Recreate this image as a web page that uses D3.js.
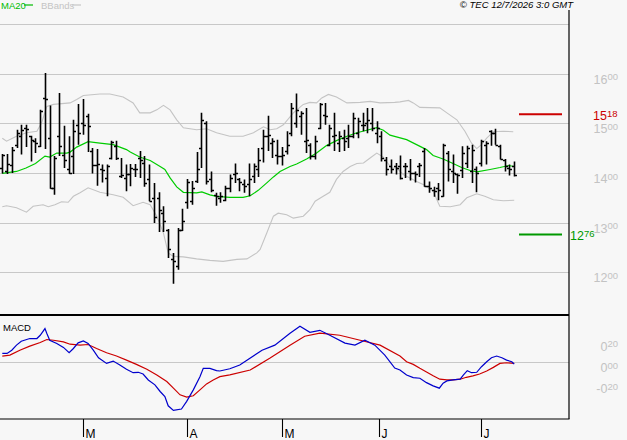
<!DOCTYPE html>
<html><head><meta charset="utf-8">
<script src="https://cdn.jsdelivr.net/npm/d3@7/dist/d3.min.js"></script>
<style>body{margin:0;background:#f7f7f7}svg{display:block}</style>
</head><body><svg id="c" width="627" height="440"></svg>
<script>
// ---- OHLC data (bar index 0..108)
const open  = [1410,1403,1417,1457,1474,1491,1474,1464,1454,1551,1470,1370,1474,1437,1407,1434,1497,1501,1514,1444,1417,1407,1390,1430,1454,1393,1390,1397,1407,1430,1420,1387,1350,1350,1319,1286,1226,1212,1286,1341,1343,1383,1450,1501,1387,1356,1350,1346,1370,1397,1387,1377,1377,1393,1407,1450,1474,1460,1437,1434,1444,1480,1501,1514,1464,1457,1434,1490,1517,1457,1474,1460,1470,1470,1474,1481,1497,1501,1501,1481,1474,1427,1413,1413,1413,1413,1403,1400,1413,1444,1373,1366,1370,1353,1440,1403,1397,1405,1420,1403,1407,1420,1457,1484,1481,1454,1427,1410,1413];
const high  = [1438,1438,1452,1487,1497,1497,1475,1470,1527,1601,1536,1434,1561,1495,1474,1507,1539,1549,1519,1450,1448,1417,1417,1465,1465,1430,1417,1418,1418,1444,1434,1417,1380,1361,1333,1287,1239,1289,1328,1388,1384,1442,1521,1504,1403,1360,1361,1374,1397,1419,1390,1387,1419,1419,1450,1487,1515,1470,1467,1452,1484,1541,1560,1524,1531,1460,1475,1541,1541,1497,1521,1484,1487,1497,1521,1511,1521,1531,1531,1504,1484,1432,1427,1420,1435,1420,1428,1403,1420,1450,1383,1372,1380,1459,1444,1437,1399,1454,1455,1457,1413,1467,1464,1486,1489,1457,1428,1417,1423];
const low   = [1399,1398,1400,1450,1437,1452,1423,1440,1452,1448,1368,1356,1434,1410,1398,1398,1457,1477,1442,1399,1374,1381,1353,1427,1426,1390,1363,1373,1392,1390,1372,1343,1299,1281,1281,1229,1177,1205,1283,1328,1336,1380,1410,1377,1361,1334,1340,1343,1361,1380,1363,1360,1353,1380,1392,1421,1444,1430,1417,1415,1437,1474,1491,1477,1440,1427,1427,1488,1497,1454,1444,1442,1444,1450,1470,1470,1484,1480,1484,1460,1423,1395,1399,1397,1387,1390,1385,1381,1392,1372,1360,1352,1345,1352,1383,1380,1358,1390,1410,1380,1361,1413,1417,1455,1457,1427,1403,1395,1393];
const close = [1437,1418,1447,1481,1487,1489,1467,1460,1524,1549,1370,1430,1454,1427,1400,1484,1481,1497,1494,1417,1418,1405,1413,1462,1430,1395,1397,1410,1408,1427,1380,1344,1311,1326,1303,1246,1222,1286,1303,1381,1370,1408,1507,1383,1366,1353,1354,1370,1390,1400,1381,1373,1388,1413,1427,1474,1477,1464,1434,1437,1457,1530,1527,1521,1467,1434,1464,1538,1514,1491,1477,1474,1464,1474,1511,1504,1497,1507,1491,1491,1430,1408,1407,1410,1390,1413,1400,1397,1417,1373,1370,1363,1366,1457,1407,1400,1395,1440,1450,1447,1400,1464,1460,1481,1457,1428,1413,1407,1395];

// ---- MA20 (read at sample bar positions)
const maIdx = [0,3,5,7,9,10,11.5,13.6,14.3,15.7,18.1,20.6,23.4,26.2,27,29,31.2,33.3,34.3,35.4,36.8,38.2,41,42.1,43.8,45.2,48,50.8,52.3,54,55.8,57.2,58.6,60.7,62.1,64.2,66.3,68.4,70.5,72.7,74.8,76.9,79,80.4,81.8,85.3,87.4,89.5,90.9,93,95.1,96.9,98.7,100.1,102.9,105,106.8,108];
const maVal = [1399,1403,1410,1419,1434,1432,1440,1440,1442,1452,1463,1460,1457,1447,1442,1432,1425,1413,1407,1390,1372,1361,1360,1362,1356,1353,1351,1351,1354,1365,1380,1392,1403,1413,1418,1428,1440,1455,1465,1474,1481,1486,1491,1486,1476,1467,1457,1447,1435,1428,1419,1411,1405,1402,1407,1411,1415,1413];

// ---- Bollinger bands
const ubIdx = [0,0.9,3,5.1,7.3,8.3,9.4,10.8,14.3,15.7,17.1,20.6,22.7,25.5,27.6,29,31.2,32.6,34,35.4,36.8,38.2,41,43.1,45.2,48,50.8,53,55.1,56.5,57.9,59.3,61.4,63.5,64.9,66.3,67.4,68.8,70.5,72.7,75.5,77.6,79.7,82.8,83.9,85.7,86.7,88.1,92.3,93.8,95.9,97.6,99,100.1,101.1,102.2,103.6,105.7,107.8];
const ubVal = [1470,1464,1474,1481,1484,1501,1534,1538,1541,1548,1556,1559,1559,1553,1541,1521,1521,1527,1536,1527,1507,1491,1487,1489,1481,1474,1474,1481,1493,1487,1489,1497,1521,1538,1542,1541,1551,1558,1553,1541,1542,1544,1541,1542,1543,1546,1541,1532,1531,1521,1507,1484,1460,1449,1457,1470,1483,1484,1483];
const lbIdx = [0,0.9,3,5.1,6.5,8.6,9.7,11.1,12.5,13.9,15,16.4,18.1,20.6,23.4,25.5,27.6,29.7,31.2,32.6,34,35,36.1,38.2,41,43.8,46.6,49.5,51.6,53.7,54.4,55.8,57.2,58.2,60,61.4,63.5,64.9,66,67.7,69.1,70.5,71.9,73.4,74.8,76.2,77.6,79,80.4,82.1,83.2,84.6,86,87.4,88.8,90.9,92.3,94.5,96.6,98,100.1,101.8,103.6,105.7,108];
const lbVal = [1332,1334,1330,1321,1333,1336,1332,1336,1342,1341,1353,1360,1370,1361,1356,1351,1334,1341,1336,1313,1279,1239,1232,1231,1227,1224,1222,1226,1227,1239,1246,1279,1313,1319,1316,1309,1313,1326,1343,1353,1361,1387,1403,1413,1419,1420,1430,1440,1432,1410,1410,1397,1390,1383,1377,1363,1333,1332,1336,1350,1358,1353,1346,1344,1345];

// ---- MACD and signal
const mIdx = [0,1,2,3,4,5.8,7.3,8,9,9.4,10,11.5,12.9,14.1,15,16,17.1,18.1,19.2,20.3,22,23.4,24.8,26.2,27.6,28.7,29.7,30.8,32.2,33.3,34.3,35,36.1,37.8,38.9,40.3,41.7,42.4,43.8,45.2,45.9,48,50.1,54.8,57.5,60.7,62.8,64.9,67,69.1,72.3,74.4,76.5,78.6,80.7,82.8,83.9,85.3,86.7,88.1,89.5,90.9,92.2,93,93.8,95.1,96.6,97.3,98.1,99,100.1,101.1,102.2,103.2,104.3,105.4,106.4,107.5,108];
const mVal = [0.084,0.084,0.114,0.161,0.198,0.223,0.223,0.254,0.316,0.27,0.207,0.177,0.14,0.09,0.13,0.183,0.201,0.177,0.114,0.043,-0.01,0.012,-0.025,-0.065,-0.097,-0.093,-0.109,-0.165,-0.211,-0.273,-0.32,-0.407,-0.45,-0.437,-0.366,-0.258,-0.134,-0.056,-0.056,-0.078,-0.081,-0.06,-0.025,0.114,0.161,0.273,0.338,0.282,0.30,0.254,0.18,0.161,0.207,0.161,0.068,-0.053,-0.072,-0.118,-0.143,-0.149,-0.19,-0.22,-0.242,-0.195,-0.174,-0.165,-0.158,-0.118,-0.078,-0.097,-0.093,-0.041,0.006,0.043,0.059,0.043,0.021,0.006,-0.016];
const sIdx = [0,1.6,3.7,5.8,8,9.4,10.8,12.9,14.3,16.4,18.1,19.9,22,24.1,26.2,28.3,30.5,32.6,34.7,36.1,37.5,38.9,40.3,41.7,43.1,44.5,45.9,48,52.3,56.5,60.7,63.8,67,71.2,75.5,79.7,83.9,85.3,86.7,88.1,89.5,90.9,92.3,93.8,95.1,96.6,97.9,99.3,100.7,102.2,103.6,105,106.4,108];
const sVal = [0.059,0.068,0.114,0.152,0.186,0.214,0.207,0.192,0.17,0.161,0.167,0.13,0.09,0.059,0.021,-0.019,-0.065,-0.118,-0.18,-0.242,-0.304,-0.326,-0.313,-0.258,-0.202,-0.165,-0.134,-0.118,-0.072,0.04,0.161,0.245,0.273,0.254,0.207,0.161,0.059,0.006,-0.019,-0.056,-0.09,-0.125,-0.158,-0.165,-0.165,-0.158,-0.14,-0.127,-0.109,-0.081,-0.047,-0.01,-0.004,-0.01];

// ---- axes / labels
const gridLevels = [1200,1300,1400,1500,1600,1700];
const priceLabels = [1200,1300,1400,1500,1600];
const macdLabels = [0.2,0,-0.2];
const monthIdx = [17.1,39,59,79.5,101.1];
const monthLbl = ["M","A","M","J","J"];
const hiLevel = 1518, loLevel = 1276;

const svg = d3.select("#c");
const W = 569;
const x = d3.scaleLinear().domain([0,108]).range([2.3,514.2]);
const y = d3.scaleLinear().domain([1200,1600]).range([272.3,73.6]);
const ym = d3.scaleLinear().domain([-0.2,0.2]).range([383.7,341]);
const FONT = "'Liberation Sans', Arial, sans-serif";

svg.append("rect").attr("width",627).attr("height",440).attr("fill","#f7f7f7");

// grid
svg.selectAll(".g").data(gridLevels).join("line")
  .attr("x1",0).attr("x2",W).attr("y1",d=>Math.round(y(d))+0.5).attr("y2",d=>Math.round(y(d))+0.5)
  .attr("stroke","#c8c8c8").attr("stroke-width",1);
svg.append("line").attr("x1",0).attr("x2",W).attr("y1",Math.round(ym(0))+0.5).attr("y2",Math.round(ym(0))+0.5)
  .attr("stroke","#c8c8c8");

// bands
const lineGen = (xs, ys, sc) => d3.line().x((d,i)=>x(xs[i])).y(d=>sc(d));
svg.append("path").attr("d",lineGen(ubIdx,ubVal,y)(ubVal)).attr("fill","none").attr("stroke","#c4c4c4").attr("stroke-width",1.1);
svg.append("path").attr("d",lineGen(lbIdx,lbVal,y)(lbVal)).attr("fill","none").attr("stroke","#c4c4c4").attr("stroke-width",1.1);
svg.append("path").attr("d",lineGen(maIdx,maVal,y)(maVal)).attr("fill","none").attr("stroke","#00cc00").attr("stroke-width",1.2);

// bars
const bars = svg.append("g").attr("stroke","#000").attr("fill","none");
open.forEach((o,i)=>{
  const cx = Math.round(x(i))+0.5;
  bars.append("path")
    .attr("d",`M${cx},${y(high[i])}V${y(low[i])}M${cx-2.5},${Math.round(y(o))+0.5}H${cx}M${cx},${Math.round(y(close[i]))+0.5}H${cx+2.5}`)
    .attr("stroke-width",1.6);
});

// level lines
svg.append("line").attr("x1",519).attr("x2",562).attr("y1",y(hiLevel)).attr("y2",y(hiLevel)).attr("stroke","#cc0000").attr("stroke-width",2);
svg.append("line").attr("x1",519).attr("x2",562).attr("y1",y(loLevel)).attr("y2",y(loLevel)).attr("stroke","#009900").attr("stroke-width",2);

function splitLabel(g, big, small, xx, yy, anchor, color, bs, ss){
  const t = g.append("text").attr("x",xx).attr("y",yy).attr("text-anchor",anchor)
    .attr("font-family",FONT).attr("fill",color);
  t.append("tspan").attr("font-size",bs).text(big);
  t.append("tspan").attr("font-size",ss).attr("dy",-3.3).text(small);
}
priceLabels.forEach(p=>{
  const s = String(p);
  splitLabel(svg, s.slice(0,2), s.slice(2), 618, y(p)+10, "end", "#c3c3c3", "12.5px", "9.5px");
});
{
  const s = String(hiLevel);
  splitLabel(svg, s.slice(0,2), s.slice(2), 593, y(hiLevel)+5.8, "start", "#cc0000", "12.5px", "9.5px");
  const t = String(loLevel);
  splitLabel(svg, t.slice(0,2), t.slice(2), 570, y(loLevel)+5.5, "start", "#009900", "12.5px", "9.5px");
}
macdLabels.forEach(v=>{
  const neg = v<0;
  const a = Math.abs(v);
  const big = (neg?"-":"") + Math.floor(a);
  const small = String(Math.round(a*100)).padStart(2,"0");
  splitLabel(svg, big, small, 618, ym(v)+9.5, "end", "#c3c3c3", "12.5px", "9.5px");
});

// MACD lines
svg.append("path").attr("d",lineGen(sIdx,sVal,ym)(sVal)).attr("fill","none").attr("stroke","#cc0000").attr("stroke-width",1.2);
svg.append("path").attr("d",lineGen(mIdx,mVal,ym)(mVal)).attr("fill","none").attr("stroke","#0000cc").attr("stroke-width",1.2);

// frames
svg.append("line").attr("x1",0).attr("x2",W).attr("y1",315).attr("y2",315).attr("stroke","#000").attr("stroke-width",2);
svg.append("line").attr("x1",0).attr("x2",W+0.5).attr("y1",419).attr("y2",419).attr("stroke","#000").attr("stroke-width",1.2);
svg.append("line").attr("x1",W).attr("x2",W).attr("y1",10).attr("y2",419).attr("stroke","#000").attr("stroke-width",1.2);

// month axis
monthIdx.forEach((m,i)=>{
  const mx = Math.round(x(m))+0.5;
  svg.append("line").attr("x1",mx).attr("x2",mx).attr("y1",419).attr("y2",437).attr("stroke","#000").attr("stroke-width",1.1);
  svg.append("text").attr("x",mx+2).attr("y",437.5).attr("font-family",FONT).attr("font-size","12px").attr("fill","#000").text(monthLbl[i]);
});

// legends
svg.append("text").attr("x",1).attr("y",8.5).attr("font-family",FONT).attr("font-size","9.5px").attr("fill","#00bb00").text("MA20");
svg.append("line").attr("x1",24).attr("x2",33).attr("y1",5).attr("y2",5).attr("stroke","#00bb00").attr("stroke-width",1.2);
svg.append("text").attr("x",41).attr("y",8.5).attr("font-family",FONT).attr("font-size","9.5px").attr("fill","#c4c4c4").text("BBands");
svg.append("line").attr("x1",72).attr("x2",81).attr("y1",5).attr("y2",5).attr("stroke","#c4c4c4").attr("stroke-width",1.2);
svg.append("text").attr("x",573).attr("y",8).attr("text-anchor","end").attr("font-family",FONT).attr("font-style","italic").attr("font-size","9.5px").attr("fill","#000").text("© TEC 12/7/2026 3:0 GMT");
svg.append("text").attr("x",3).attr("y",331).attr("font-family",FONT).attr("font-size","9.5px").attr("fill","#000").text("MACD");
</script></body></html>
